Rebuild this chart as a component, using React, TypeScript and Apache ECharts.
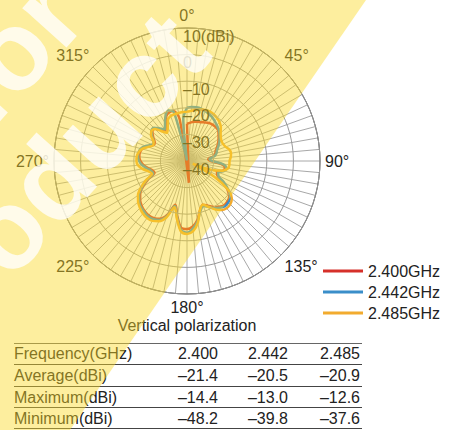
import React, { useEffect, useRef } from 'react';
import * as echarts from 'echarts';

// ---- data ----
const angles = [
  0, 5, 10, 15, 20, 25, 30, 35, 40, 45, 50, 55, 60, 65, 70, 75, 80, 85,
  90, 95, 100, 105, 110, 115, 120, 125, 130, 135, 140, 145, 150, 155, 160, 165, 170, 175,
  180, 185, 190, 195, 200, 205, 210, 215, 220, 225, 230, 235, 240, 245, 250, 255, 260, 265,
  270, 275, 280, 285, 290, 295, 300, 305, 310, 315, 320, 325, 330, 335, 340, 345, 350, 355,
];

const gain2400 = [
  -26.0, -25.5, -25.0, -24.7, -24.5, -24.0, -23.5, -23.3, -23.3, -23.5, -24.5, -25.5, -26.5, -27.5, -28.5, -29.0, -30.0, -32.0,
  -31.0, -27.0, -25.5, -26.0, -28.0, -27.5, -24.5, -21.5, -19.3, -18.5, -18.3, -19.0, -20.0, -21.5, -22.5, -21.0, -17.5, -15.3,
  -14.4, -14.8, -19.0, -23.0, -18.5, -16.0, -15.2, -15.0, -15.3, -16.0, -17.0, -18.5, -21.0, -24.0, -27.0, -26.5, -25.0, -23.5,
  -22.5, -22.0, -22.0, -22.5, -24.0, -26.0, -26.0, -24.5, -23.0, -22.8, -24.5, -26.0, -24.0, -21.5, -20.5, -20.5, -24.0, -48.2,
];

const gain2442 = [
  -20.0, -19.6, -19.5, -19.6, -20.0, -20.5, -21.0, -21.8, -22.5, -23.2, -24.0, -25.0, -26.0, -27.0, -28.0, -28.5, -29.5, -31.5,
  -30.5, -26.5, -25.0, -25.5, -27.5, -27.0, -24.0, -21.0, -18.8, -18.0, -17.8, -18.5, -19.5, -21.0, -22.0, -20.5, -17.0, -14.5,
  -13.0, -14.0, -18.5, -22.5, -18.0, -15.5, -14.7, -14.5, -15.0, -15.5, -16.5, -18.0, -20.5, -23.5, -26.5, -26.0, -24.5, -23.0,
  -22.0, -21.5, -21.5, -22.0, -23.5, -25.5, -25.5, -24.0, -22.5, -22.3, -24.0, -25.5, -23.5, -21.0, -19.8, -21.0, -39.8, -24.0,
];

const gain2485 = [
  -21.5, -21.0, -20.5, -20.0, -19.6, -19.5, -19.8, -20.3, -21.0, -22.0, -23.5, -24.5, -25.0, -25.0, -24.5, -23.5, -23.2, -23.5,
  -24.0, -24.0, -24.3, -26.0, -30.0, -37.6, -28.0, -21.0, -18.0, -17.0, -16.8, -17.5, -19.0, -21.0, -22.5, -21.0, -16.5, -13.5,
  -12.6, -13.5, -18.0, -22.0, -17.5, -15.0, -14.0, -13.8, -14.2, -15.0, -16.0, -17.5, -20.0, -23.0, -26.0, -25.0, -23.0, -21.5,
  -21.0, -21.0, -21.5, -22.5, -24.5, -26.0, -25.5, -23.5, -22.5, -23.0, -25.5, -27.0, -25.5, -23.0, -22.0, -21.8, -21.7, -21.5,
];

const seriesNames = ['2.400GHz', '2.442GHz', '2.485GHz'];
const seriesColors = ['#d6302a', '#3a8ec9', '#f2ab2e'];
const angleLabelValues = [0, 45, 90, 135, 180, 225, 270, 315];
const radiusMin = -40;
const radiusMax = 10;
const radiusStep = 10;

const chartTitle = 'Vertical polarization';
const tableHeader = 'Frequency(GHz)';
const frequencies = ['2.400', '2.442', '2.485'];
const rowLabels = ['Average(dBi)', 'Maximum(dBi)', 'Minimum(dBi)'];
const averages = [-21.4, -20.5, -20.9];
const maxima = [-14.4, -13.0, -12.6];
const minima = [-48.2, -39.8, -37.6];

const watermarkLines = ['for', 'product'];

const FONT = '"Liberation Sans", Arial, Helvetica, sans-serif';

const fmt = (v: number) => (v < 0 ? '\u2013' + Math.abs(v).toFixed(1) : v.toFixed(1));

export default function App() {
  const ref = useRef<HTMLDivElement>(null);

  useEffect(() => {
    document.body.style.margin = '0';
    if (!ref.current) return;
    const chart = echarts.init(ref.current, undefined, { renderer: 'svg' });

    const gains = [gain2400, gain2442, gain2485];
    const series = gains.map((g, si) => ({
      type: 'line',
      name: seriesNames[si],
      coordinateSystem: 'polar',
      data: [...angles.map((a, i) => [g[i], a]), [g[0], 360]],
      showSymbol: false,
      symbol: 'none',
      smooth: 0.3,
      lineStyle: { color: seriesColors[si], width: 2.5 },
      itemStyle: { color: seriesColors[si] },
      z: 3 + si,
    }));

    // table graphics
    const tableRowsY = [353, 375, 397, 418];
    const lineYs = [343, 364, 386, 407, 428];
    const valueRightX = [218, 288, 360];
    const tableEls: any[] = [];
    lineYs.forEach((y, i) => {
      tableEls.push({
        type: 'line',
        shape: { x1: 14, y1: y + 0.5, x2: 362, y2: y + 0.5 },
        style: { stroke: i === 0 ? '#666' : '#444', lineWidth: 1.2 },
        z: 10,
      });
    });
    const rows = [
      [tableHeader, ...frequencies],
      [rowLabels[0], ...averages.map(fmt)],
      [rowLabels[1], ...maxima.map(fmt)],
      [rowLabels[2], ...minima.map(fmt)],
    ];
    rows.forEach((r, ri) => {
      tableEls.push({
        type: 'text',
        x: 14,
        y: tableRowsY[ri],
        style: { text: r[0], fill: '#222', font: `16px ${FONT}`, align: 'left', verticalAlign: 'middle' },
        z: 10,
      });
      for (let c = 1; c < 4; c++) {
        tableEls.push({
          type: 'text',
          x: valueRightX[c - 1],
          y: tableRowsY[ri],
          style: { text: r[c], fill: '#222', font: `16px ${FONT}`, align: 'right', verticalAlign: 'middle' },
          z: 10,
        });
      }
    });

    const rot = (48 * Math.PI) / 180;
    const overlayEls: any[] = [
      {
        type: 'polygon',
        shape: { points: [[0, 0], [366, 0], [70, 430], [0, 430]] },
        style: { fill: 'rgba(250,218,40,0.45)' },
        z: 50,
        silent: true,
      },
      {
        type: 'text',
        x: -38,
        y: 106,
        rotation: rot,
        style: { text: watermarkLines[0], fill: '#ffffff', opacity: 0.78, font: `bold 112px ${FONT}`, align: 'left', verticalAlign: 'middle' },
        z: 51,
        silent: true,
      },
      {
        type: 'text',
        x: -93,
        y: 340,
        rotation: rot,
        style: { text: watermarkLines[1], fill: '#ffffff', opacity: 0.78, font: `bold 112px ${FONT}`, align: 'left', verticalAlign: 'middle' },
        z: 51,
        silent: true,
      },
    ];

    chart.setOption({
      animation: false,
      backgroundColor: '#ffffff',
      textStyle: { fontFamily: FONT },
      title: {
        text: chartTitle,
        left: 187,
        top: 317,
        textAlign: 'center',
        textStyle: { fontSize: 16, fontWeight: 'normal', color: '#222', fontFamily: FONT },
        padding: 0,
      },
      legend: {
        orient: 'vertical',
        left: 323,
        top: 263,
        itemWidth: 40,
        itemHeight: 3,
        itemGap: 5,
        icon: 'rect',
        padding: 0,
        data: seriesNames,
        textStyle: { fontSize: 16, color: '#222', fontFamily: FONT },
      },
      polar: { center: [187, 161], radius: 133 },
      angleAxis: {
        type: 'value',
        min: 0,
        max: 360,
        interval: 5,
        startAngle: 90,
        clockwise: true,
        axisLine: { show: true, lineStyle: { color: '#333', width: 1 } },
        axisTick: { show: false },
        axisLabel: {
          show: true,
          margin: 5,
          fontSize: 16,
          color: '#222',
          fontFamily: FONT,
          formatter: (v: number) => (angleLabelValues.includes(v) ? v + '\u00b0' : ''),
        },
        splitLine: { show: true, lineStyle: { color: '#a8a8a8', width: 1 } },
      },
      radiusAxis: {
        type: 'value',
        min: radiusMin,
        max: radiusMax,
        interval: radiusStep,
        axisLine: { show: false },
        axisTick: { show: false },
        axisLabel: {
          show: true,
          inside: true,
          margin: 4,
          align: 'left',
          verticalAlign: 'top',
          lineHeight: 16,
          fontSize: 16,
          color: '#222',
          fontFamily: FONT,
          formatter: (v: number) => (v === radiusMax ? v + '(dBi)' : v < 0 ? '\u2013' + Math.abs(v) : String(v)),
        },
        splitLine: { show: true, lineStyle: { color: '#999', width: 1 } },
        z: 20,
      },
      series,
      graphic: { elements: [...tableEls, ...overlayEls] },
    });

    return () => chart.dispose();
  }, []);

  return <div ref={ref} style={{ width: 459, height: 430, position: 'absolute', left: 0, top: 0 }} />;
}
